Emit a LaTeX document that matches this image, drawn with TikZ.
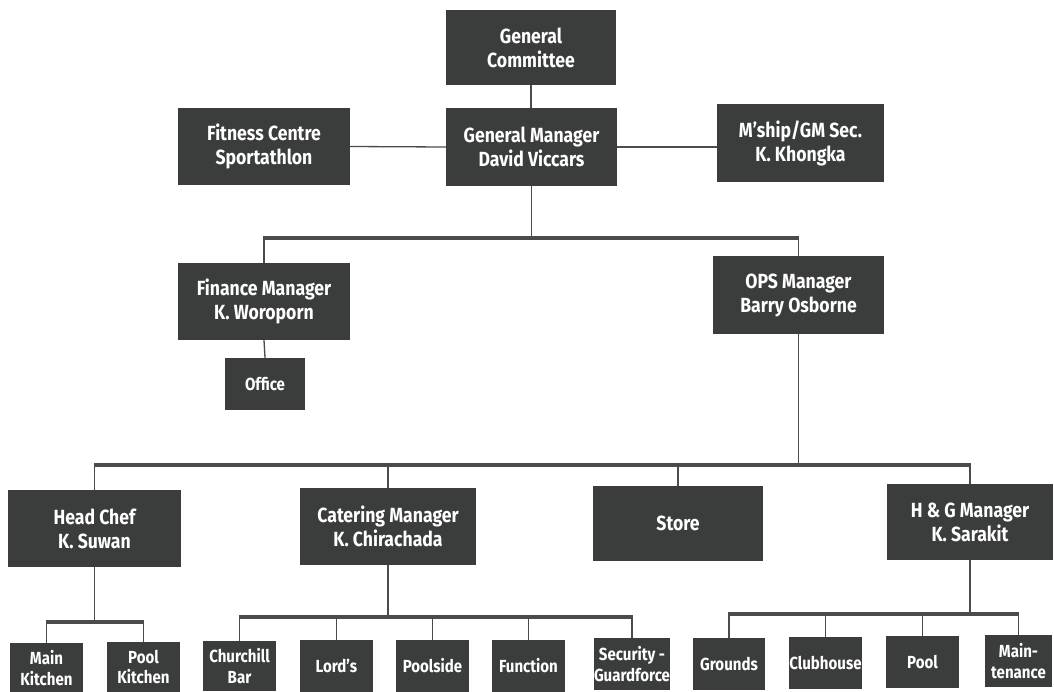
\documentclass[tikz,border=0pt]{standalone}
\usepackage{fontspec}
\setmainfont{Fira Sans}[BoldFont={Fira Sans Bold}, BoldFeatures={FakeStretch=0.86}]
\definecolor{boxc}{HTML}{3A3D3C}
\definecolor{linec}{HTML}{4A4C4B}
\begin{document}
\begin{tikzpicture}[x=1pt,y=-1pt,
  box/.style={fill=boxc, text=white, font=\bfseries\fontsize{20.5}{24}\selectfont, align=center, inner sep=0pt},
  sbox/.style={box, font=\bfseries\fontsize{17.5}{20.5}\selectfont},
  conn/.style={draw=linec, line width=1.3pt},
  bus/.style={draw=linec, line width=3.8pt}]
\useasboundingbox (0,0) rectangle (1054,691);
\fill[white] (0,0) rectangle (1054,691);
\clip (0,0) rectangle (1054,691);
% top
\node[box, minimum width=170pt, minimum height=75pt] (gc) at (531,47.5) {General\\Committee};
\node[box, minimum width=172pt, minimum height=77pt] (fit) at (264,146.5) {Fitness Centre\\Sportathlon};
\node[box, minimum width=171pt, minimum height=78pt] (gm) at (531.5,147) {General Manager\\David Viccars};
\node[box, minimum width=167pt, minimum height=78pt] (sec) at (800.5,143) {M'ship/GM Sec.\\K. Khongka};
\draw[conn] (gc.south) -- (gc.south |- gm.north);
\draw[conn] (fit.east) -- (gm.west);
\draw[conn] (gm.east) -- (sec.west |- gm.east);
% second level
\node[box, minimum width=172pt, minimum height=77pt] (fin) at (264,301.5) {Finance Manager\\K. Woroporn};
\node[box, minimum width=171pt, minimum height=78pt] (ops) at (798.5,295) {OPS Manager\\Barry Osborne};
\node[sbox, minimum width=80pt, minimum height=52pt] (office) at (265,384) {Office};
\coordinate (b1L) at (264,238);
\coordinate (b1R) at (798.5,238);
\draw[conn] (gm.south) -- (gm.south |- b1L);
\draw[bus] ([xshift=-0.65pt]b1L) -- ([xshift=0.65pt]b1R);
\draw[conn] (b1L) -- (fin.north);
\draw[conn] (b1R) -- (ops.north);
\draw[conn] (fin.south) -- (office.north);
% third level
\node[box, minimum width=173pt, minimum height=77pt] (chef) at (94.5,528.5) {Head Chef\\K. Suwan};
\node[box, minimum width=176pt, minimum height=77pt] (cat) at (388,526.5) {Catering Manager\\K. Chirachada};
\node[box, minimum width=170pt, minimum height=75pt] (store) at (678,523.5) {Store};
\node[box, minimum width=166pt, minimum height=76pt] (hg) at (970,522) {H \& G Manager\\K. Sarakit};
\coordinate (b2L) at (94.5,465);
\coordinate (b2R) at (970,465);
\draw[conn] (ops.south) -- (ops.south |- b2L);
\draw[bus] ([xshift=-0.65pt]b2L) -- ([xshift=0.65pt]b2R);
\draw[conn] (b2L) -- (chef.north);
\draw[conn] (cat.north |- b2L) -- (cat.north);
\draw[conn] (store.north |- b2L) -- (store.north);
\draw[conn] (b2R) -- (hg.north);
% bottom level
\node[sbox, minimum width=73pt, minimum height=50pt] (mk) at (46.5,668) {Main\\Kitchen};
\node[sbox, minimum width=73pt, minimum height=50pt] (pk) at (143.5,667) {Pool\\Kitchen};
\node[sbox, minimum width=73pt, minimum height=50pt] (cb) at (239.5,666) {Churchill\\Bar};
\node[sbox, minimum width=73pt, minimum height=52pt] (lo) at (336.5,666) {Lord's};
\node[sbox, minimum width=73pt, minimum height=52pt] (ps) at (432.5,666) {Poolside};
\node[sbox, minimum width=73pt, minimum height=52pt] (fu) at (528.5,666) {Function};
\node[sbox, minimum width=72pt, minimum height=52pt] (se) at (632,664) {Security -\\Guardforce};
\node[sbox, minimum width=72pt, minimum height=52pt] (gr) at (729,664) {Grounds};
\node[sbox, minimum width=73pt, minimum height=52pt] (cl) at (825.5,663) {Clubhouse};
\node[sbox, minimum width=73pt, minimum height=52pt] (po) at (922.5,662) {Pool};
\node[sbox, minimum width=67pt, minimum height=52pt] (ma) at (1018.5,661) {Main-\\tenance};
% buses
\coordinate (b3L) at (46.5,622);
\coordinate (b3R) at (143.5,622);
\draw[conn] (chef.south) -- (chef.south |- b3L);
\draw[bus] ([xshift=-0.65pt]b3L) -- ([xshift=0.65pt]b3R);
\draw[conn] (b3L) -- (mk.north);
\draw[conn] (b3R) -- (pk.north);
\coordinate (b4L) at (239.5,617);
\coordinate (b4R) at (632,617);
\draw[conn] (cat.south) -- (cat.south |- b4L);
\draw[bus] ([xshift=-0.65pt]b4L) -- ([xshift=0.65pt]b4R);
\draw[conn] (b4L) -- (cb.north);
\draw[conn] (lo.north |- b4L) -- (lo.north);
\draw[conn] (ps.north |- b4L) -- (ps.north);
\draw[conn] (fu.north |- b4L) -- (fu.north);
\draw[conn] (b4R) -- (se.north);
\coordinate (b5L) at (729,614);
\coordinate (b5R) at (1018.5,614);
\draw[conn] (hg.south) -- (hg.south |- b5L);
\draw[bus] ([xshift=-0.65pt]b5L) -- ([xshift=0.65pt]b5R);
\draw[conn] (b5L) -- (gr.north);
\draw[conn] (cl.north |- b5L) -- (cl.north);
\draw[conn] (po.north |- b5L) -- (po.north);
\draw[conn] (b5R) -- (ma.north);
\end{tikzpicture}
\end{document}
